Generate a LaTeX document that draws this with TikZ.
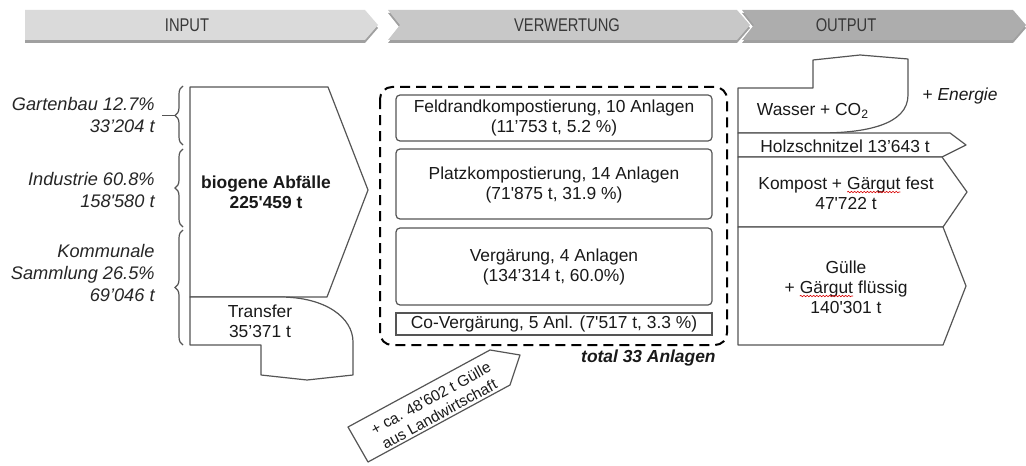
\documentclass[tikz,border=0pt]{standalone}
\usepackage{fontspec}
\newfontfamily\arial{Liberation Sans}
\newfontfamily\arialn{Liberation Sans}[FakeStretch=0.8]
\usetikzlibrary{decorations.pathreplacing,decorations.pathmorphing}
\definecolor{hdA}{HTML}{DADADA}
\definecolor{hdB}{HTML}{C8C8C8}
\definecolor{hdC}{HTML}{ADADAD}
\definecolor{hdS}{HTML}{A0A0A0}
\definecolor{edge}{HTML}{555555}
\newcommand\spellmark[1]{\tikz[baseline=(sp.base)]{\node[inner sep=0pt,outer sep=0pt](sp){#1};\draw[red!85!black,line width=0.3pt,decorate,decoration={snake,amplitude=0.35pt,segment length=1.6pt}] ([yshift=-1.4pt]sp.base west) -- ([yshift=-1.4pt]sp.base east);}}
\begin{document}
\begin{tikzpicture}[x=0.5pt,y=-0.5pt,
  txt/.style={font=\arial\fontsize{8.7}{10}\selectfont,inner sep=0pt,align=center,text=black!90},
  lbl/.style={font=\arial\itshape\fontsize{9.1}{11}\selectfont,inner sep=0pt,align=right,anchor=east,text=black!85},
  hdtxt/.style={font=\arialn\fontsize{9.2}{10}\selectfont,inner sep=0pt,text=black!78},
  blk/.style={draw=edge,line width=0.6pt,fill=white,line join=round},
  inbox/.style={draw=edge,line width=0.6pt,rounded corners=2pt},
  bracestyle/.style={draw=edge,line width=0.6pt,decorate,decoration={brace,amplitude=4pt}}]
\useasboundingbox (0,0) rectangle (1026,465);
% header
\fill[hdS] (25,13)--(365,13)--(378,28)--(365,43)--(25,43)--cycle;
\fill[hdS] (388,13)--(737,13)--(750,28)--(737,43)--(388,43)--(400,28)--cycle;
\fill[hdS] (742,13)--(1013,13)--(1026,28)--(1013,43)--(742,43)--(754,28)--cycle;
\fill[hdA] (25,10)--(365,10)--(378,25)--(365,40)--(25,40)--cycle;
\fill[hdB] (388,10)--(737,10)--(750,25)--(737,40)--(388,40)--(400,25)--cycle;
\fill[hdC] (742,10)--(1013,10)--(1026,25)--(1013,40)--(742,40)--(754,25)--cycle;
\node[hdtxt] (hin) at (187,25) {INPUT};
\node[hdtxt] (hve) at (567,25) {VERWERTUNG};
\node[hdtxt] (hout) at (846,25) {OUTPUT};
% braces
\draw[bracestyle] (183,145) -- (183,86);
\draw[edge,line width=0.6pt] (175,115.5) -- (162,115.5);
\draw[bracestyle] (183,227) -- (183,149);
\draw[bracestyle] (183,345) -- (183,230);
\node[lbl] (gart) at (155,115) {Gartenbau 12.7\%\\33’204 t};
\node[lbl] (ind) at (155,190) {Industrie 60.8\%\\158'580 t};
\node[lbl] (komm) at (155,273) {Kommunale\\Sammlung 26.5\%\\69’046 t};
% input
\draw[blk] (190,87)--(328,87)--(368,190)--(327,297)--(190,297)--cycle;
\node[txt,font=\arial\bfseries\fontsize{8.7}{10}\selectfont] (bio) at (266,192) {biogene Abfälle\\225'459 t};
\draw[blk] (190,297)--(280,297) .. controls (326,297) and (353,318) .. (353,342)
  --(353,375)--(307,380)--(261,375)--(261,345)--(190,345)--cycle;
\node[txt] (trans) at (260,321) {Transfer\\35’371 t};
% verwertung
\draw[black,line width=1pt,dash pattern=on 5pt off 3pt,rounded corners=6pt] (380,87) rectangle (727,345);
\draw[inbox] (396,95) rectangle (712,141);
\node[txt] (feld) at (554,118) {Feldrandkompostierung, 10 Anlagen\\(11’753 t, 5.2 \%)};
\draw[inbox] (396,149) rectangle (712,219);
\node[txt] (platz) at (554,185) {Platzkompostierung, 14 Anlagen\\(71'875 t, 31.9 \%)};
\draw[inbox] (396,228) rectangle (712,305);
\node[txt] (verg) at (554,267) {Vergärung, 4 Anlagen\\(134’314 t, 60.0\%)};
\draw[draw=edge,line width=0.6pt] (396,313) rectangle (712,335);
\node[txt] (cov) at (554,324) {Co-Vergärung, 5 Anl. (7'517 t, 3.3 \%)};
\node[txt,font=\arial\bfseries\itshape\fontsize{8.7}{10}\selectfont,anchor=east] (tot) at (716,358) {total 33 Anlagen};
% diagonal arrow
\draw[blk] (348,427)--(490,350)--(520,355)--(510,385)--(368,462)--cycle;
\node[txt,font=\arial\fontsize{7.7}{9}\selectfont,rotate=28.7] (guelle) at (435,406) {+ ca. 48'602 t Gülle\\aus Landwirtschaft};
% output
\draw[blk] (738,88)--(813,88)--(813,60)--(860,55)--(908,59)--(908,95)
  .. controls (908,125) and (865,133) .. (820,133)--(738,133)--cycle;
\node[txt] (wass) at (813,111) {Wasser + CO\textsubscript{2}};
\node[txt] (ener) at (960,96) {+ \textit{Energie}};
\draw[blk] (738,133)--(950,133)--(966,145)--(942,157)--(738,157)--cycle;
\node[txt] (holz) at (845,146) {Holzschnitzel 13’643 t};
\draw[blk] (738,157)--(942,157)--(967,192)--(943,227)--(738,227)--cycle;
\node[txt] (komp) at (846,193) {Kompost + \spellmark{Gärgut} fest\\47'722 t};
\draw[blk] (738,227)--(943,227)--(966,286)--(943,345)--(738,345)--cycle;
\node[txt] (gul) at (846,287) {Gülle\\+ \spellmark{Gärgut} flüssig\\140'301 t};
\end{tikzpicture}
\end{document}
